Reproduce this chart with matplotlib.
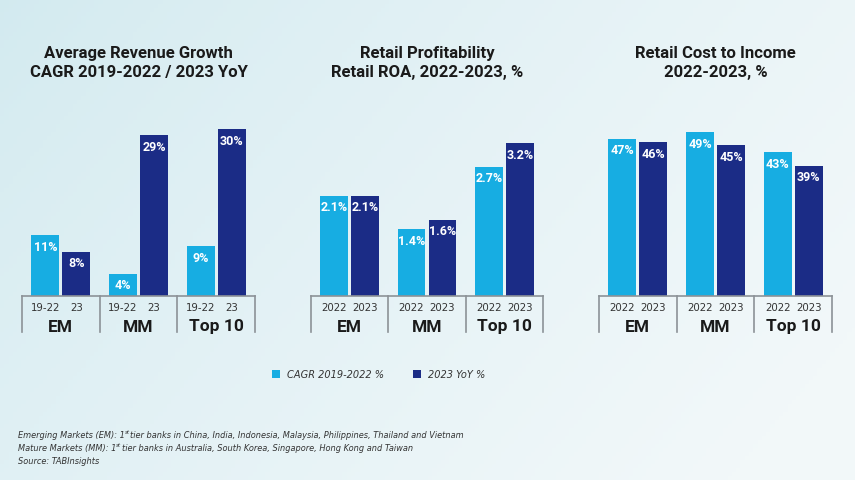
#!/usr/bin/env python
import numpy as np
import matplotlib
matplotlib.use('Agg')
import matplotlib.pyplot as plt

# ---- data ----
groups = ['EM', 'MM', 'Top 10']

growth_cagr = [11, 4, 9]
growth_yoy  = [8, 29, 30]
growth_sub  = ['19-22', '23']

roa_2022 = [2.1, 1.4, 2.7]
roa_2023 = [2.1, 1.6, 3.2]

cti_2022 = [47, 49, 43]
cti_2023 = [46, 45, 39]

year_sub = ['2022', '2023']

titles = ['Average Revenue Growth\nCAGR 2019-2022 / 2023 YoY',
          'Retail Profitability\nRetail ROA, 2022-2023, %',
          'Retail Cost to Income\n2022-2023, %']

legend_labels = ['CAGR 2019-2022 %', '2023 YoY %']

notes = [('Emerging Markets (EM): 1', 'st', 'tier banks in China, India, Indonesia, Malaysia, Philippines, Thailand and Vietnam'),
         ('Mature Markets (MM): 1', 'st', 'tier banks in Australia, South Korea, Singapore, Hong Kong and Taiwan'),
         ('Source: TABInsights', '', '')]

LIGHT = '#17ade2'
DARK  = '#1b2c86'
GRID  = '#8c9297'
TXT   = '#1a1a1a'
BOLD  = ['Roboto', 'DejaVu Sans']
COND  = dict(family='DejaVu Sans', stretch='condensed')

W, H = 855, 480


def px_rect(x0, x1, y0, y1):
    return [x0 / W, (H - y1) / H, (x1 - x0) / W, (y1 - y0) / H]


def panel(fig, rect, a, b, ymax, subs, fmt):
    ax = fig.add_axes(rect)
    ax.patch.set_alpha(0)
    x = np.arange(len(groups))
    w = 0.36
    b1 = ax.bar(x - 0.2, a, w, color=LIGHT, zorder=2)
    b2 = ax.bar(x + 0.2, b, w, color=DARK, zorder=2)
    for bars, vals in ((b1, a), (b2, b)):
        for r, v in zip(bars, vals):
            ax.annotate(fmt.format(v), (r.get_x() + r.get_width() / 2, v),
                        xytext=(0, -4), textcoords='offset points',
                        ha='center', va='top', color='white',
                        fontsize=9, fontweight='bold', family=BOLD)
    ax.set_xlim(-0.5, len(groups) - 0.5)
    ax.set_ylim(0, ymax)
    ax.axis('off')

    hpx = rect[3] * H
    tr = ax.get_xaxis_transform()
    ax.plot([-0.5, len(groups) - 0.5], [0, 0], color=GRID, lw=1.2,
            transform=tr, clip_on=False)
    for xv in np.arange(len(groups) + 1) - 0.5:
        ax.plot([xv, xv], [0, -36 / hpx], color=GRID, lw=1.2,
                transform=tr, clip_on=False)
    for i, g in enumerate(groups):
        ax.text(i - 0.2, -12 / hpx, subs[0], transform=tr, ha='center',
                va='center', fontsize=8.2, color='#333333', **COND)
        ax.text(i + 0.2, -12 / hpx, subs[1], transform=tr, ha='center',
                va='center', fontsize=8.2, color='#333333', **COND)
        ax.text(i, -31 / hpx, g, transform=tr, ha='center', va='center',
                fontsize=12.5, fontweight='bold', color=TXT, family=BOLD)
    return ax, b1, b2


def main():
    fig = plt.figure(figsize=(W / 100, H / 100), dpi=100)

    # background gradient
    bg = fig.add_axes([0, 0, 1, 1])
    xx, yy = np.meshgrid(np.linspace(0, 1, 200), np.linspace(0, 1, 120))
    t = np.clip(0.75 * xx + 0.35 * yy, 0, 1) ** 0.8
    c0 = np.array([0.825, 0.918, 0.940])
    c1 = np.array([0.950, 0.973, 0.980])
    img = c0[None, None, :] * (1 - t[..., None]) + c1[None, None, :] * t[..., None]
    bg.imshow(img, extent=(0, W, H, 0), aspect='auto', zorder=-1)
    bg.set_xlim(0, W)
    bg.set_ylim(H, 0)
    bg.axis('off')

    boxes = [(22, 255), (311, 543), (599, 832)]
    ax1, h1, h2 = panel(fig, px_rect(22, 255, 100, 296), growth_cagr, growth_yoy,
                        196 / 5.55, growth_sub, '{:d}%')
    panel(fig, px_rect(311, 543, 100, 296), roa_2022, roa_2023,
          196 / 47.8, year_sub, '{:.1f}%')
    panel(fig, px_rect(599, 832, 100, 296), cti_2022, cti_2023,
          196 / 3.345, year_sub, '{:d}%')

    for (x0, x1), ttl in zip(boxes, titles):
        bg.text((x0 + x1) / 2, 63, ttl, ha='center', va='center', fontsize=12,
                fontweight='bold', color=TXT, family=BOLD, linespacing=1.4)

    fig.legend([h1, h2], legend_labels, loc='center left',
               bbox_to_anchor=(272 / W, 1 - 375 / H), ncol=2, frameon=False,
               handlelength=0.75, handleheight=0.75, handletextpad=0.6,
               columnspacing=2.7, borderpad=0, borderaxespad=0,
               prop=dict(style='italic', size=7.8, **COND),
               labelcolor='#333333')

    # footnotes with superscripts
    for i, (a, sup, rest) in enumerate(notes):
        t1 = bg.text(18, 436 + i * 12.5, a, ha='left', va='center', fontsize=6.6,
                     style='italic', color='#333333', **COND)
        if sup:
            t2 = bg.annotate(sup, xy=(1, 0.6), xycoords=t1, ha='left', va='bottom',
                             fontsize=4.5, style='italic', color='#333333', **COND)
            bg.annotate(rest, xy=(1, 0), xycoords=(t2, t1), xytext=(0.3, 0),
                        textcoords='offset points', ha='left',
                        va='bottom', fontsize=6.6, style='italic',
                        color='#333333', **COND)

    fig.savefig('out.png', dpi=100)


if __name__ == "__main__":
    main()
